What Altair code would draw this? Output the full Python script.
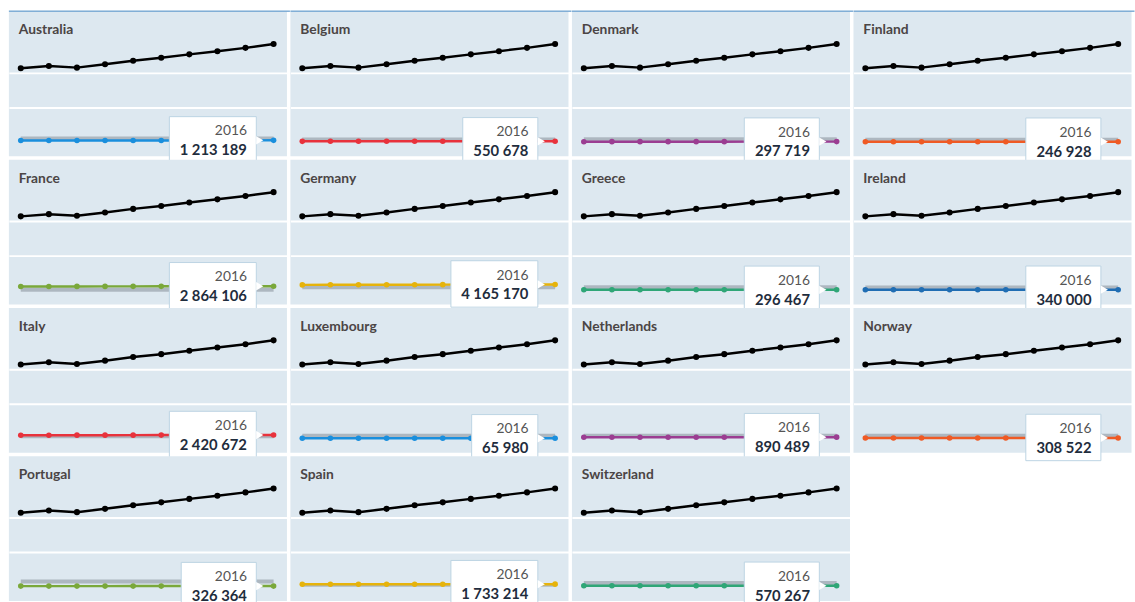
import altair as alt
import pandas as pd

# Years shown on every small multiple
years = [2007, 2008, 2009, 2010, 2011, 2012, 2013, 2014, 2015, 2016]

countries = [
    "Australia", "Belgium", "Denmark", "Finland",
    "France", "Germany", "Greece", "Ireland",
    "Italy", "Luxembourg", "Netherlands", "Norway",
    "Portugal", "Spain", "Switzerland",
]
country_colors = [
    "#1a8fdd", "#e8323c", "#9b3d92", "#ef5a24",
    "#7aa83a", "#e6b30b", "#2fa677", "#1f6db3",
    "#e8323c", "#1a8fdd", "#9b3d92", "#ef5a24",
    "#7aa83a", "#e6b30b", "#2fa677",
]

# Common trend line drawn in black in every panel
trend = [53_400_000, 55_000_000, 53_800_000, 56_200_000, 58_800_000,
         60_900_000, 63_400_000, 65_700_000, 68_100_000, 70_900_000]

# Country series, 2007-2016
australia = [1_096_000, 1_109_000, 1_120_000, 1_136_000, 1_147_000, 1_161_000, 1_172_000, 1_188_000, 1_199_000, 1_213_189]
belgium = [498_000, 507_000, 512_000, 519_000, 523_000, 531_000, 536_000, 540_000, 546_000, 550_678]
denmark = [262_000, 268_000, 271_000, 276_000, 279_000, 283_000, 287_000, 290_000, 294_000, 297_719]
finland = [214_000, 219_000, 223_000, 227_000, 231_000, 234_000, 238_000, 241_000, 244_000, 246_928]
france = [2_701_000, 2_722_000, 2_740_000, 2_761_000, 2_779_000, 2_796_000, 2_812_000, 2_830_000, 2_847_000, 2_864_106]
germany = [3_852_000, 3_889_000, 3_921_000, 3_960_000, 3_994_000, 4_031_000, 4_066_000, 4_101_000, 4_134_000, 4_165_170]
greece = [281_000, 284_000, 286_000, 288_000, 290_000, 291_000, 293_000, 294_000, 295_000, 296_467]
ireland = [309_000, 313_000, 316_000, 320_000, 324_000, 327_000, 331_000, 334_000, 337_000, 340_000]
italy = [2_289_000, 2_305_000, 2_322_000, 2_338_000, 2_351_000, 2_366_000, 2_380_000, 2_395_000, 2_408_000, 2_420_672]
luxembourg = [58_000, 59_000, 60_000, 61_000, 62_000, 62_500, 63_400, 64_200, 65_100, 65_980]
netherlands = [842_000, 848_000, 853_000, 859_000, 865_000, 870_000, 876_000, 881_000, 886_000, 890_489]
norway = [275_000, 280_000, 284_000, 288_000, 292_000, 295_000, 299_000, 302_000, 305_000, 308_522]
portugal = [311_000, 313_000, 315_000, 316_000, 318_000, 320_000, 321_000, 323_000, 325_000, 326_364]
spain = [1_652_000, 1_663_000, 1_672_000, 1_682_000, 1_691_000, 1_700_000, 1_709_000, 1_717_000, 1_725_000, 1_733_214]
switzerland = [522_000, 529_000, 535_000, 541_000, 547_000, 552_000, 557_000, 562_000, 566_000, 570_267]

country_series = [
    australia, belgium, denmark, finland, france, germany, greece, ireland,
    italy, luxembourg, netherlands, norway, portugal, spain, switzerland,
]

# Level of the grey band running under each country line
band_levels = [2_500_000, 1_900_000, 2_000_000, 1_600_000, 400_000,
               2_100_000, 2_200_000, 2_000_000, 1_500_000, 2_000_000,
               2_000_000, 2_000_000, 3_600_000, 1_200_000, 2_600_000]

top_row = countries[:4]


def spaced(n):
    return f"{n:,}".replace(",", " ")


rows = []
for name, values, level in zip(countries, country_series, band_levels):
    for yr, t, v in zip(years, trend, values):
        rows.append({"country": name, "series": "trend", "year": yr, "value": t})
        lab = spaced(v)
        rows.append({"country": name, "series": "country", "year": yr, "value": v,
                     "label": lab, "year_label": str(yr), "chars": len(lab),
                     "top": name in top_row})
    rows.append({"country": name, "series": "band", "year": years[0],
                 "year_end": years[-1], "value": level})
df = pd.DataFrame(rows)

FONT = "Lato"
x_scale = alt.Scale(domain=[2006.577, 2016.476], nice=False, zero=False)
y_scale = alt.Scale(domain=[-10_360_000, 94_290_000], nice=False, zero=False)
y_axis = alt.Axis(values=[25_000_000, 50_000_000], grid=True, gridColor="white",
                  gridWidth=2, gridOpacity=1, labels=False, ticks=False, domain=False,
                  title=None, minExtent=0, maxExtent=0)

X = alt.X("year:Q", scale=x_scale, axis=None)
Y = alt.Y("value:Q", scale=y_scale, axis=y_axis)

base = alt.Chart().encode(x=X, y=Y)
LAST = "datum.series == 'country' && datum.year == 2016"

band = base.mark_rule(color="#a4aeb7", strokeWidth=4, opacity=0.85).encode(
    x2="year_end:Q"
).transform_filter("datum.series == 'band'")

trend_line = base.mark_line(
    color="black", strokeWidth=2.5,
    point=alt.OverlayMarkDef(filled=True, size=38, color="black"),
).transform_filter("datum.series == 'trend'")

country_line = base.mark_line(
    strokeWidth=2.5, point=alt.OverlayMarkDef(filled=True, size=32),
).encode(
    color=alt.Color("country:N", scale=alt.Scale(domain=countries, range=country_colors), legend=None)
).transform_filter("datum.series == 'country'")

name_label = alt.Chart().mark_text(
    align="left", baseline="alphabetic", font=FONT, fontSize=14,
    fontWeight="bold", color="#4b4545",
).encode(
    x=alt.value(10), y=alt.value(23), text="country:N"
).transform_filter(LAST)

top_border = alt.Chart().mark_rule(color="#3c82c0", strokeWidth=1).encode(
    x=alt.value(0), x2=alt.value(284.5), y=alt.value(-0.5)
).transform_filter(LAST + " && datum.top")

# Callout boxes at the 2016 point, sized by label length
boxes = []
for chars, w in [(6, 67), (7, 76), (9, 88)]:
    boxes.append(
        base.mark_rect(
            fill="white", stroke="#bcd3e3", strokeWidth=1,
            xOffset=-17.5 - w, x2Offset=-17.5, yOffset=-24, y2Offset=23,
        ).encode(x2="year:Q", y2="value:Q").transform_filter(
            LAST + f" && datum.chars == {chars}"
        )
    )

callout = base.transform_filter(LAST)

pointer = callout.mark_point(
    shape="triangle-right", filled=True, fill="white", opacity=1,
    size=70, xOffset=-14, strokeWidth=0,
)

year_text = callout.mark_text(
    align="right", baseline="middle", dx=-27, dy=-9,
    font=FONT, fontSize=14, color="#555555",
).encode(text="year_label:N")

value_text = callout.mark_text(
    align="right", baseline="middle", dx=-27, dy=10,
    font=FONT, fontSize=15, fontWeight="bold", color="#1f2d3d",
).encode(text="label:N")

panel = alt.layer(
    band, trend_line, country_line, name_label, top_border,
    *boxes, pointer, year_text, value_text, data=df,
).properties(width=281.5, height=146.5)

no_header = alt.Header(labels=False, title=None, labelPadding=0, labelFontSize=0,
                       labelExpr="''", titlePadding=0)

# "flush" keeps the callouts that spill past a panel from pushing the grid apart
chart = panel.facet(
    facet=alt.Facet("country:N", sort=countries, title=None, header=no_header),
    columns=4, spacing=3, bounds="flush",
).properties(
    padding={"left": 8, "top": 7, "right": 0, "bottom": 0},
    background="white",
).configure_view(
    fill="#dde8f0", strokeWidth=0,
).configure_headerFacet(
    labels=False, labelPadding=0, titlePadding=0,
)

chart.save("out.html", embed_options={"renderer": "svg", "actions": False})
